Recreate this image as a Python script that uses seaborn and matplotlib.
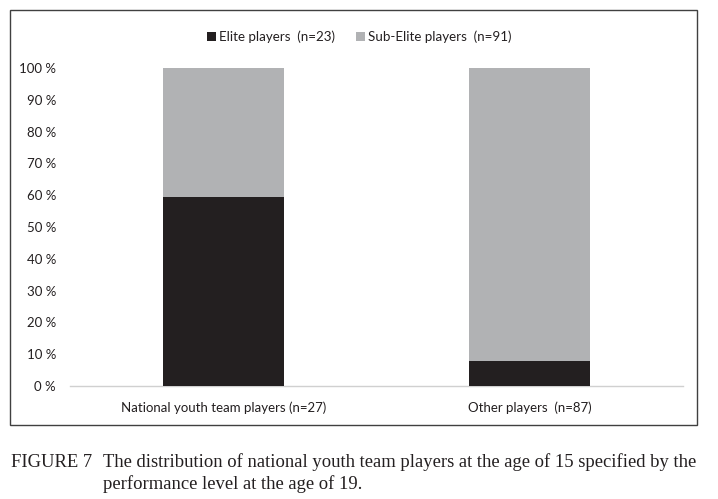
import matplotlib
matplotlib.use("Agg")
import matplotlib.pyplot as plt
import seaborn as sns
import pandas as pd
from matplotlib.patches import Patch, Rectangle

categories = ["National youth team players (n=27)", "Other players  (n=87)"]
elite_pct = [59.3, 8.0]
sub_elite_pct = [40.7, 92.0]
series_labels = ["Elite players  (n=23)", "Sub-Elite players  (n=91)"]
y_ticks = [0, 10, 20, 30, 40, 50, 60, 70, 80, 90, 100]
tick_labels = [f"{t} %" for t in y_ticks]

elite_color = "#231f20"
sub_color = "#b1b2b4"

sns.set_theme(style="white")
plt.rcParams["font.family"] = ["Lato", "DejaVu Sans"]

fig = plt.figure(figsize=(7.18, 4.99), dpi=100)
ax = fig.add_axes([70/718, 1-386/499, (683-70)/718, (386-68)/499])

df = pd.DataFrame({
    "cat": categories,
    "elite": elite_pct,
    "total": [e + s for e, s in zip(elite_pct, sub_elite_pct)],
})

sns.barplot(data=df, x="cat", y="total", color=sub_color, width=0.395,
            saturation=1, ax=ax, linewidth=0)
sns.barplot(data=df, x="cat", y="elite", color=elite_color, width=0.395,
            saturation=1, ax=ax, linewidth=0)

ax.set_xlim(-0.5, 1.5)
ax.set_ylim(0, 100)
ax.set_yticks(y_ticks)
ax.set_yticklabels(tick_labels, fontsize=9.5, color="#231f20")
ax.tick_params(axis="y", length=0, pad=10)
ax.tick_params(axis="x", length=0, pad=11, labelsize=9.5, labelcolor="#231f20")
ax.set_xlabel("")
ax.set_ylabel("")
for s in ["top", "right", "left"]:
    ax.spines[s].set_visible(False)
ax.spines["bottom"].set_color("#d0d0d0")
ax.spines["bottom"].set_linewidth(1.0)
ax.spines["bottom"].set_zorder(0)

handles = [Patch(facecolor=elite_color, edgecolor="none"),
           Patch(facecolor=sub_color, edgecolor="none")]
fig.legend(handles, series_labels, loc="center", bbox_to_anchor=(359/718, 1-37/499),
           ncol=2, frameon=False, fontsize=9.6, handlelength=0.7, handleheight=0.7,
           handletextpad=0.2, columnspacing=1.6, labelcolor="#231f20")

fig.patches.append(Rectangle((10/718, 1-425/499), (697-10)/718, (425-10)/499,
                             transform=fig.transFigure, fill=False,
                             edgecolor="#404040", linewidth=1.0))

serif = ["Liberation Serif", "DejaVu Serif"]
fs = 13.45
fig.text(11/718, 1-467/499, "FIGURE 7", family=serif, fontsize=fs, va="baseline", color="#231f20")
fig.text(103/718, 1-467/499,
         "The distribution of national youth team players at the age of 15 specified by the",
         family=serif, fontsize=fs, va="baseline", color="#231f20")
fig.text(103/718, 1-489/499, "performance level at the age of 19.",
         family=serif, fontsize=fs, va="baseline", color="#231f20")

fig.savefig("out.png", dpi=100)
